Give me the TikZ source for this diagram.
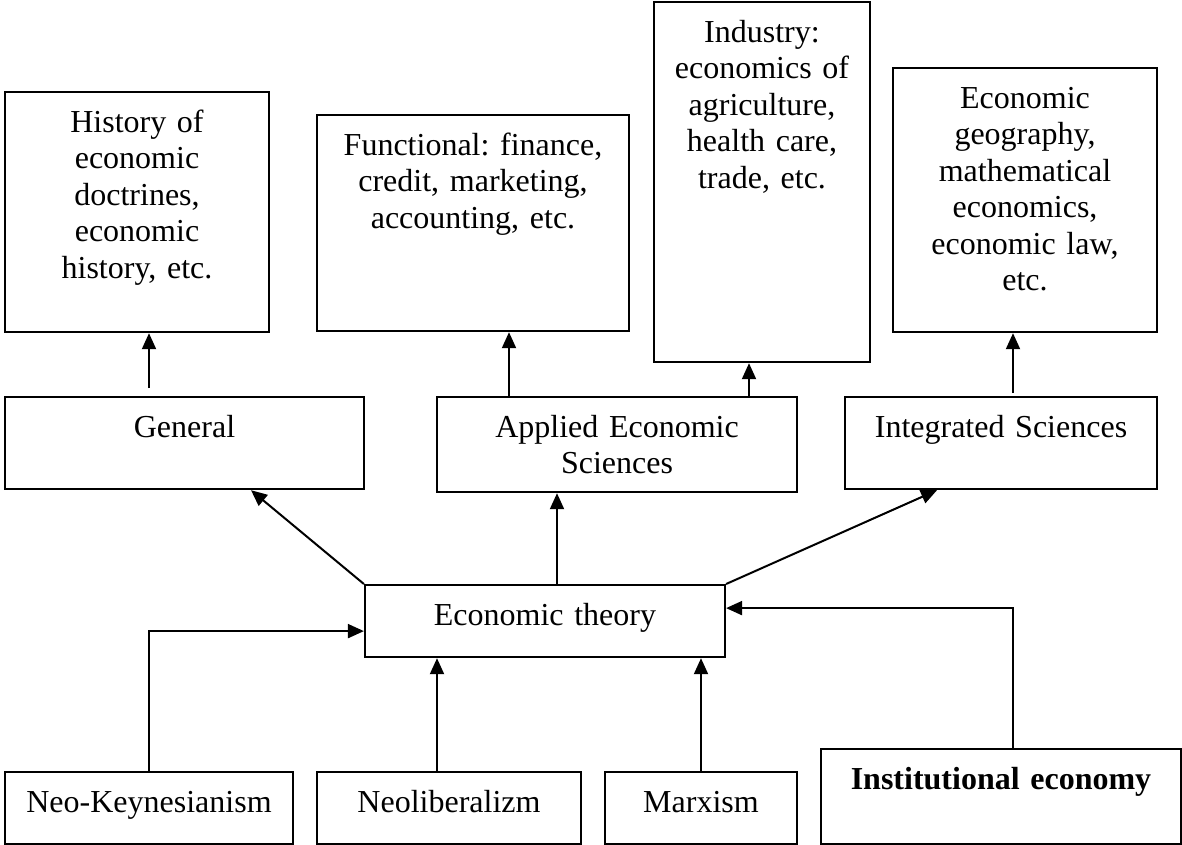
\documentclass[tikz,border=0pt]{standalone}
\usepackage{fontspec}
\setmainfont{Liberation Serif}
\usepackage{tikz}
\usetikzlibrary{arrows.meta}
\tikzstyle{box} = [rectangle, draw=black, line width=2.2pt, inner sep=0pt, align=center, anchor=north, text height=40pt, font=\fontsize{32}{36.5}\selectfont\frenchspacing]
\tikzstyle{arrow} = [line width=2pt,->,>={Triangle[length=16pt,width=14pt]}]

\begin{document}
\begin{tikzpicture}[x=1pt, y=-1pt]
        \useasboundingbox (0,0) rectangle (1182,845);

        % Top row
        \node (hist) [box, text width=264pt, text depth=200pt] at (137,91) {History of\\economic\\doctrines,\\economic\\history, etc.};
        \node (func) [box, text width=312pt, text depth=176pt] at (473,114) {Functional: finance,\\credit, marketing,\\accounting, etc.};
        \node (ind) [box, text width=216pt, text depth=320pt] at (762,1) {Industry:\\economics of\\agriculture,\\health care,\\trade, etc.};
        \node (geog) [box, text width=264pt, text depth=224pt] at (1025,67) {Economic\\geography,\\mathematical\\economics,\\economic law,\\etc.};

        % Branches
        \node (gen) [box, text width=359pt, text depth=52pt] at (184.5,396) {General};
        \node (appl) [box, text width=360pt, text depth=55pt] at (617,396) {Applied Economic\\Sciences};
        \node (integ) [box, text width=312pt, text depth=52pt] at (1001,396) {Integrated Sciences};

        % Theory
        \node (theory) [box, text width=360pt, text depth=32pt] at (545,584) {Economic theory};

        % Schools
        \node (neok) [box, text width=288pt, text depth=32pt] at (149,771) {Neo-Keynesianism};
        \node (neol) [box, text width=264pt, text depth=32pt] at (449,771) {Neoliberalizm};
        \node (marx) [box, text width=192pt, text depth=32pt] at (701,771) {Marxism};
        \node (inst) [box, text width=360pt, text depth=55pt] at (1001,748) {\bfseries Institutional economy};

        % Arrows up to the top row
        \draw [arrow] ([xshift=-35.5pt,yshift=8pt]gen.north) -- ([xshift=12pt]hist.south);
        \draw [arrow] ([xshift=-108pt]appl.north) -- ([xshift=36pt]func.south);
        \draw [arrow] ([xshift=132pt]appl.north) -- ([xshift=-13pt]ind.south);
        \draw [arrow] ([xshift=12pt,yshift=3pt]integ.north) -- ([xshift=-12pt]geog.south);

        % Arrows from Economic theory
        \draw [arrow] (theory.north west) -- ([xshift=66.5pt]gen.south);
        \draw [arrow] ([xshift=12pt]theory.north) -- ([xshift=-60pt]appl.south);
        \draw [arrow] (theory.north east) -- ([xshift=-64pt]integ.south);

        % Arrows into Economic theory
        \draw [arrow] (neok.north) |- ([yshift=-10pt]theory.west);
        \draw [arrow] ([xshift=-12pt]neol.north) -- ([xshift=-108pt]theory.south);
        \draw [arrow] (marx.north) -- ([xshift=156pt]theory.south);
        \draw [arrow] ([xshift=12pt]inst.north) |- ([yshift=13pt]theory.east);
\end{tikzpicture}
\end{document}
